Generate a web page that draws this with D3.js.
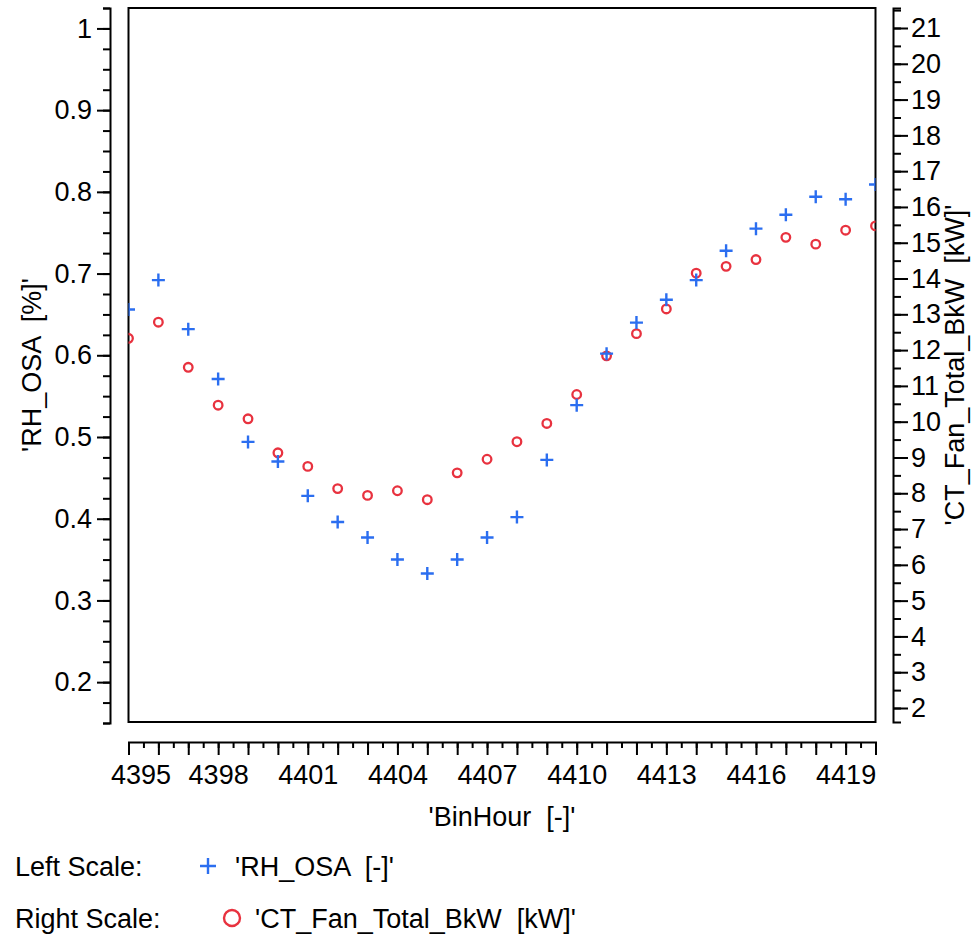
<!DOCTYPE html>
<html>
<head>
<meta charset="utf-8">
<script src="https://cdn.jsdelivr.net/npm/d3@7"></script>
<style>
  body { margin: 0; background: #fff; }
  text { font-family: "Liberation Sans", Arial, sans-serif; fill: #000; white-space: pre; }
</style>
</head>
<body>
<svg id="chart" width="979" height="939"></svg>
<script>
// data
var binHour = [4395, 4396, 4397, 4398, 4399, 4400, 4401, 4402, 4403, 4404, 4405, 4406, 4407,
               4408, 4409, 4410, 4411, 4412, 4413, 4414, 4415, 4416, 4417, 4418, 4419, 4420];
var rhOsa = [0.656, 0.692, 0.632, 0.571, 0.494, 0.470, 0.428, 0.396, 0.377, 0.350, 0.333, 0.350, 0.377,
             0.402, 0.472, 0.539, 0.602, 0.640, 0.668, 0.692, 0.728, 0.755, 0.772, 0.794, 0.791, 0.809];
var ctFanKw = [12.33, 12.78, 11.52, 10.46, 10.08, 9.13, 8.75, 8.13, 7.94, 8.07, 7.82, 8.57, 8.95,
               9.44, 9.95, 10.76, 11.84, 12.46, 13.15, 14.15, 14.34, 14.53, 15.15, 14.96, 15.35, 15.47];

var xLabelTicks = [4395, 4398, 4401, 4404, 4407, 4410, 4413, 4416, 4419];
var leftTicks = [0.2, 0.3, 0.4, 0.5, 0.6, 0.7, 0.8, 0.9, 1];
var rightTicks = [2, 3, 4, 5, 6, 7, 8, 9, 10, 11, 12, 13, 14, 15, 16, 17, 18, 19, 20, 21];

var blue = "#2b6ef0", red = "#e8323f";
var fs = 27;

var box = {left: 128.5, right: 875.5, top: 8, bottom: 722};

var svg = d3.select("#chart");

var x = d3.scaleLinear().domain([4395, 4420]).range([box.left, box.right]);
var yL = d3.scaleLinear().domain([0.15, 1.025]).range([723, 8]);
var yR = d3.scaleLinear().domain([2, 21]).range([708, 28]);
yR.domain([yR.invert(box.bottom), yR.invert(box.top)]).range([box.bottom, box.top]);

function minorVals(scale, step) {
  var d = scale.domain(), lo = Math.min(d[0], d[1]), hi = Math.max(d[0], d[1]);
  var out = [];
  for (var v = Math.ceil(lo / step - 1e-6) * step; v <= hi + 1e-9; v += step) out.push(+v.toFixed(4));
  return out;
}

function styleAxis(g) {
  g.selectAll("path, line").attr("stroke", "#000").attr("stroke-width", 2);
  g.selectAll("text").attr("font-size", fs).attr("fill", "#000")
    .style("font-family", "'Liberation Sans', Arial, sans-serif");
}

// left axis
var lx = 110;
svg.append("g").attr("transform", "translate(" + lx + ",0)")
  .call(d3.axisLeft(yL).tickValues(minorVals(yL, 0.025)).tickSize(7).tickSizeOuter(0).tickFormat(""))
  .call(styleAxis).select(".domain").remove();
svg.append("g").attr("transform", "translate(" + lx + ",0)")
  .call(d3.axisLeft(yL).tickValues(leftTicks).tickSize(13).tickSizeOuter(7).tickPadding(5)
        .tickFormat(function(d) { return d3.format("")(d); }))
  .call(styleAxis);

// right axis
var rx = 893;
svg.append("g").attr("transform", "translate(" + rx + ",0)")
  .call(d3.axisRight(yR).tickValues(minorVals(yR, 0.5)).tickSize(8).tickSizeOuter(0).tickFormat(""))
  .call(styleAxis).select(".domain").remove();
svg.append("g").attr("transform", "translate(" + rx + ",0)")
  .call(d3.axisRight(yR).tickValues(rightTicks).tickSize(15).tickSizeOuter(8).tickPadding(3))
  .call(styleAxis);

// bottom axis
var by = 742;
svg.append("g").attr("transform", "translate(0," + by + ")")
  .call(d3.axisBottom(x).tickValues(minorVals(x, 0.5)).tickSize(6).tickSizeOuter(0).tickFormat(""))
  .call(styleAxis).select(".domain").remove();
svg.append("g").attr("transform", "translate(0," + by + ")")
  .call(d3.axisBottom(x).tickValues(binHour).tickSize(13).tickSizeOuter(13).tickPadding(10)
        .tickFormat(function(d) { return xLabelTicks.indexOf(d) >= 0 ? d : ""; }))
  .call(styleAxis)
  .selectAll("text").filter(function(d) { return d === 4395; }).attr("dx", 12);

// plot frame
svg.append("rect")
  .attr("x", box.left).attr("y", box.top)
  .attr("width", box.right - box.left).attr("height", box.bottom - box.top)
  .attr("fill", "none").attr("stroke", "#000").attr("stroke-width", 2);

svg.append("clipPath").attr("id", "plotclip").append("rect")
  .attr("x", box.left).attr("y", box.top)
  .attr("width", box.right - box.left).attr("height", box.bottom - box.top);

var plot = svg.append("g").attr("clip-path", "url(#plotclip)");

// right series: circles
plot.selectAll("circle.fan")
  .data(binHour)
  .enter().append("circle")
  .attr("class", "fan")
  .attr("cx", function(d) { return x(d); })
  .attr("cy", function(d, i) { return yR(ctFanKw[i]); })
  .attr("r", 4.3)
  .attr("fill", "none").attr("stroke", red).attr("stroke-width", 2.3);

// left series: plus marks
plot.selectAll("path.rh")
  .data(binHour)
  .enter().append("path")
  .attr("class", "rh")
  .attr("d", "M-6.5,0H6.5M0,-6.5V6.5")
  .attr("transform", function(d, i) { return "translate(" + x(d) + "," + yL(rhOsa[i]) + ")"; })
  .attr("fill", "none").attr("stroke", blue).attr("stroke-width", 2.4);

// axis titles
svg.append("text")
  .attr("transform", "translate(41," + ((box.top + box.bottom) / 2) + ")rotate(-90)")
  .attr("text-anchor", "middle").attr("font-size", fs)
  .text("'RH_OSA  [%]'");

svg.append("text")
  .attr("transform", "translate(964," + ((box.top + box.bottom) / 2) + ")rotate(-90)")
  .attr("text-anchor", "middle").attr("font-size", fs)
  .text("'CT_Fan_Total_BkW  [kW]'");

svg.append("text")
  .attr("x", (box.left + box.right) / 2).attr("y", 826)
  .attr("text-anchor", "middle").attr("font-size", fs)
  .text("'BinHour  [-]'");

// legend
svg.append("text").attr("x", 15).attr("y", 876).attr("font-size", fs).text("Left Scale:");
svg.append("path")
  .attr("d", "M-8,0H8M0,-8V8")
  .attr("transform", "translate(208,866)")
  .attr("fill", "none").attr("stroke", blue).attr("stroke-width", 2.4);
svg.append("text").attr("x", 235).attr("y", 876).attr("font-size", fs).text("'RH_OSA  [-]'");

svg.append("text").attr("x", 15).attr("y", 928).attr("font-size", fs).text("Right Scale:");
svg.append("circle")
  .attr("cx", 232).attr("cy", 918).attr("r", 8)
  .attr("fill", "none").attr("stroke", red).attr("stroke-width", 2.4);
svg.append("text").attr("x", 255).attr("y", 928).attr("font-size", fs).text("'CT_Fan_Total_BkW  [kW]'");
</script>
</body>
</html>
